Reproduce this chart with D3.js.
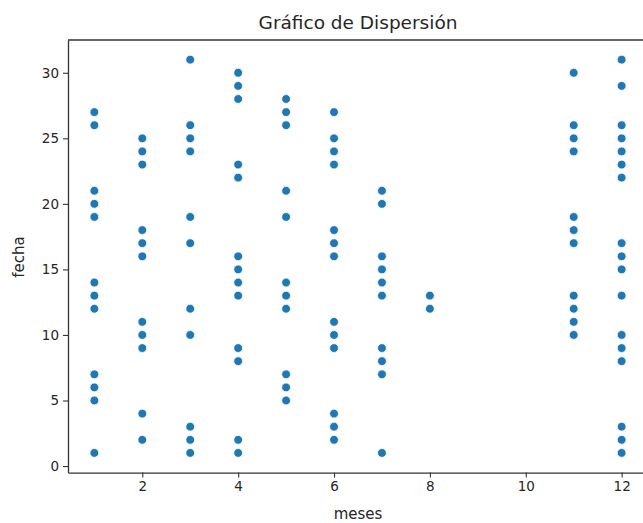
<!DOCTYPE html>
<html>
<head>
<meta charset="utf-8">
<script src="https://cdn.jsdelivr.net/npm/d3@7"></script>
<style>
  body { margin: 0; background: #fff; }
  text { font-family: "DejaVu Sans", sans-serif; fill: #262626; }
</style>
</head>
<body>
<svg width="643" height="523"></svg>
<script>
// data: month -> list of days
var months = [1, 2, 3, 4, 5, 6, 7, 8, 11, 12];
var days = [
  [27, 26, 21, 20, 19, 14, 13, 12, 7, 6, 5, 1],
  [25, 24, 23, 18, 17, 16, 11, 10, 9, 4, 2],
  [31, 26, 25, 24, 19, 17, 12, 10, 3, 2, 1],
  [30, 29, 28, 23, 22, 16, 15, 14, 13, 9, 8, 2, 1],
  [28, 27, 26, 21, 19, 14, 13, 12, 7, 6, 5],
  [27, 25, 24, 23, 18, 17, 16, 11, 10, 9, 4, 3, 2],
  [21, 20, 16, 15, 14, 13, 9, 8, 7, 1],
  [13, 12],
  [30, 26, 25, 24, 19, 18, 17, 13, 12, 11, 10],
  [31, 29, 26, 25, 24, 23, 22, 17, 16, 15, 13, 10, 9, 8, 3, 2, 1]
];
var xTicks = [2, 4, 6, 8, 10, 12];
var yTicks = [0, 5, 10, 15, 20, 25, 30];

var points = [];
months.forEach(function(m, i) {
  days[i].forEach(function(d) { points.push({ mes: m, fecha: d }); });
});

var svg = d3.select("svg");
var margin = { top: 40, left: 68 };
var width = 580, height = 432.6;

var g = svg.append("g")
  .attr("transform", "translate(" + margin.left + "," + margin.top + ")");

var x = d3.scaleLinear().domain([0.45, 12.55]).range([0, width]);
var y = d3.scaleLinear().domain([-0.5, 32.5]).range([height, 0]);

// axes
var xAxis = g.append("g")
  .attr("transform", "translate(0," + height + ")")
  .call(d3.axisBottom(x).tickValues(xTicks).tickSize(5).tickPadding(4).tickSizeOuter(0));
var yAxis = g.append("g")
  .call(d3.axisLeft(y).tickValues(yTicks).tickSize(5).tickPadding(4).tickSizeOuter(0));

[xAxis, yAxis].forEach(function(a) {
  a.select(".domain").attr("stroke", "#333").attr("stroke-width", 1.3);
  a.selectAll(".tick line").attr("stroke", "#333").attr("stroke-width", 1.1);
  a.selectAll(".tick text")
    .style("font-family", "DejaVu Sans, sans-serif")
    .style("font-size", "13.5px")
    .attr("fill", "#262626");
});

// top spine
g.append("line")
  .attr("x1", 0).attr("x2", width)
  .attr("y1", 0).attr("y2", 0)
  .attr("stroke", "#333").attr("stroke-width", 1.3);

// points
g.selectAll("circle")
  .data(points)
  .enter()
  .append("circle")
    .attr("cx", function(d) { return x(d.mes); })
    .attr("cy", function(d) { return y(d.fecha); })
    .attr("r", 4.4)
    .attr("fill", "#1f77b4")
    .attr("stroke", "#fff")
    .attr("stroke-width", 0.8);

// labels
svg.append("text")
  .attr("x", 358).attr("y", 29)
  .attr("text-anchor", "middle")
  .style("font-size", "18.5px")
  .text("Gráfico de Dispersión");

svg.append("text")
  .attr("x", 358).attr("y", 519)
  .attr("text-anchor", "middle")
  .style("font-size", "15px")
  .text("meses");

svg.append("text")
  .attr("transform", "translate(24,257) rotate(-90)")
  .attr("text-anchor", "middle")
  .style("font-size", "15px")
  .text("fecha");
</script>
</body>
</html>
